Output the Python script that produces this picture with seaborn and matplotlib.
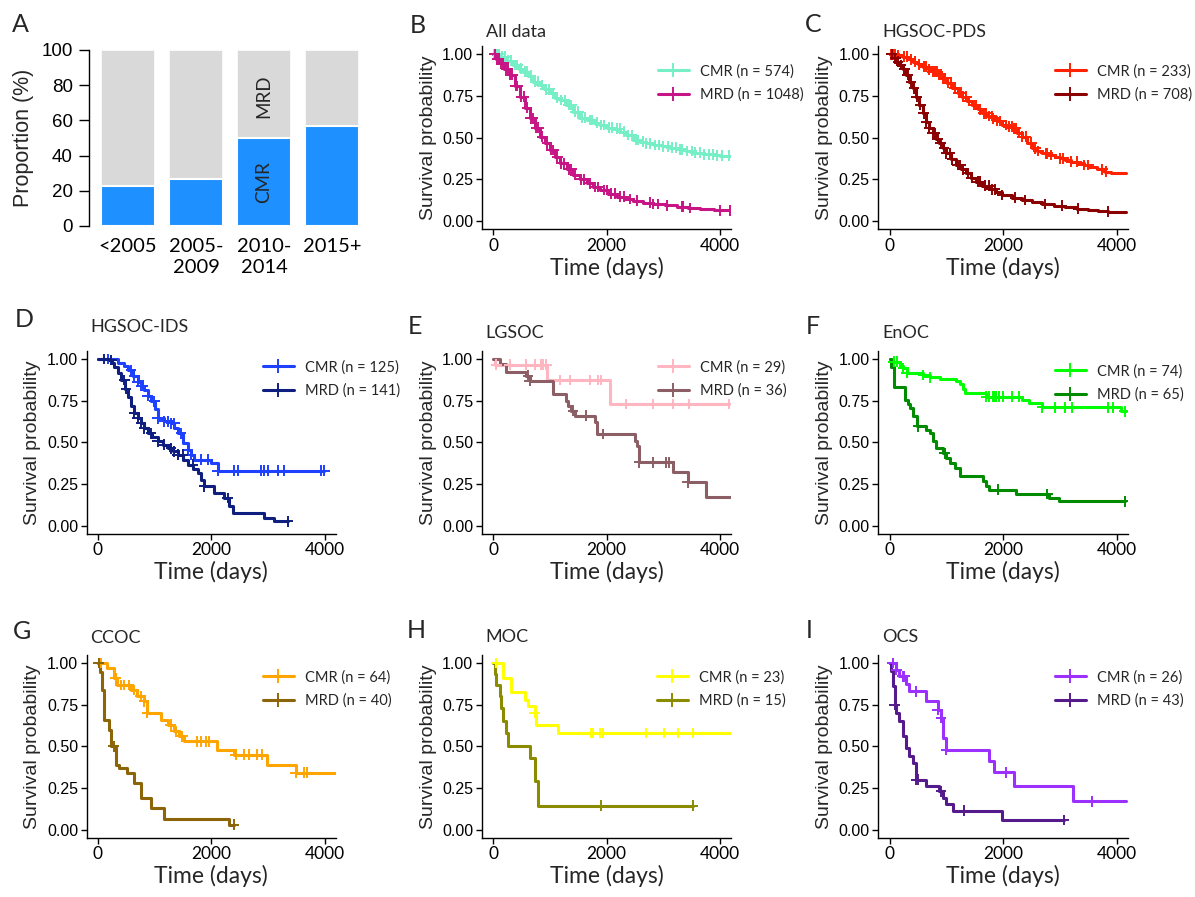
"""Response-group survival figure: CMR share by period and Kaplan-Meier panels."""

import matplotlib

matplotlib.use("Agg")
import matplotlib.pyplot as plt
import numpy as np
import pandas as pd
import seaborn as sns
from matplotlib.lines import Line2D

FIG_W, FIG_H = 1195, 897

# ---- panel A: proportion of CMR / MRD per diagnosis period ----
PERIODS = ["<2005", "2005-\n2009", "2010-\n2014", "2015+"]
CMR_PCT = [23, 26.5, 50, 57]
TOTAL_PCT = [100, 100, 100, 100]

# ---- Kaplan-Meier curves: step times (days), survival after each step, censor times ----
B_CMR_TIME = [0, 120, 250, 350, 450, 530, 620, 710, 820, 900, 1000, 1100, 1180, 1290, 1410, 1520, 1650, 1780,
              1880, 2000, 2120, 2240, 2350, 2470, 2590, 2700, 2830, 2980, 3120, 3240, 3400, 3530, 3700, 3880,
              4000, 4176]
B_CMR_SURV = [1.0, 0.986, 0.962, 0.936, 0.915, 0.896, 0.872, 0.836, 0.816, 0.79, 0.766, 0.74, 0.726, 0.696,
              0.656, 0.62, 0.606, 0.59, 0.576, 0.56, 0.553, 0.536, 0.516, 0.486, 0.476, 0.466, 0.456, 0.448,
              0.44, 0.43, 0.42, 0.41, 0.40, 0.395, 0.392, 0.392]
B_CMR_CENSOR = [20, 45, 80, 110, 160, 210, 270, 320, 390, 430, 500, 560, 600, 660, 740, 790, 860, 930, 990,
                1050, 1130, 1200, 1260, 1330, 1380, 1450, 1500, 1570, 1620, 1700, 1750, 1830, 1900, 1960, 2050,
                2100, 2180, 2230, 2300, 2380, 2450, 2520, 2560, 2640, 2700, 2760, 2850, 2920, 3000, 3080, 3150,
                3220, 3290, 3330, 3420, 3500, 3560, 3650, 3720, 3800, 3870, 3950, 4030, 4150]
B_MRD_TIME = [0, 60, 120, 200, 294, 380, 470, 560, 647, 735, 824, 910, 1000, 1090, 1176, 1300, 1412, 1530,
              1647, 1760, 1882, 2030, 2176, 2320, 2470, 2650, 2823, 3030, 3235, 3440, 3647, 3900, 4176]
B_MRD_SURV = [1.0, 0.97, 0.946, 0.915, 0.876, 0.81, 0.746, 0.68, 0.616, 0.56, 0.506, 0.466, 0.426, 0.385,
              0.346, 0.31, 0.276, 0.25, 0.226, 0.205, 0.186, 0.165, 0.146, 0.133, 0.122, 0.111, 0.102, 0.094,
              0.086, 0.078, 0.07, 0.065, 0.062]
B_MRD_CENSOR = [30, 70, 100, 140, 180, 230, 260, 300, 340, 400, 430, 500, 540, 600, 660, 700, 760, 800, 870,
                950, 1020, 1060, 1130, 1200, 1250, 1330, 1380, 1450, 1550, 1600, 1700, 1800, 1850, 1950, 2000,
                2080, 2150, 2230, 2300, 2412, 2540, 2764, 2823, 2900, 3058, 3323, 3352, 3470, 4000, 4176]

C_CMR_TIME = [0, 100, 234, 320, 409, 500, 584, 670, 759, 850, 934, 1020, 1109, 1200, 1285, 1370, 1460, 1550,
              1635, 1720, 1810, 1900, 1985, 2070, 2161, 2250, 2336, 2420, 2511, 2600, 2686, 2800, 2920, 3000,
              3095, 3200, 3329, 3420, 3504, 3650, 3796, 3900, 4175]
C_CMR_SURV = [1.0, 0.995, 0.986, 0.97, 0.956, 0.94, 0.926, 0.91, 0.896, 0.88, 0.856, 0.83, 0.796, 0.77, 0.746,
              0.72, 0.696, 0.67, 0.646, 0.63, 0.616, 0.6, 0.576, 0.565, 0.556, 0.53, 0.506, 0.47, 0.436, 0.42,
              0.406, 0.396, 0.386, 0.376, 0.366, 0.356, 0.346, 0.336, 0.326, 0.31, 0.296, 0.29, 0.29]
C_CMR_CENSOR = [30, 60, 90, 150, 250, 300, 380, 450, 520, 600, 650, 700, 760, 800, 840, 880, 900, 950, 980,
                1030, 1080, 1150, 1220, 1260, 1300, 1350, 1400, 1480, 1520, 1600, 1660, 1700, 1760, 1800, 1830,
                1900, 1950, 2050, 2100, 2150, 2200, 2230, 2280, 2340, 2400, 2500, 2570, 2620, 2750, 2780, 2850,
                3000, 3060, 3200, 3300, 3420, 3500, 3750, 3820]
C_MRD_TIME = [0, 58, 120, 175, 235, 292, 350, 409, 470, 525, 585, 642, 700, 759, 820, 876, 935, 993, 1080,
              1168, 1255, 1343, 1430, 1518, 1635, 1752, 1870, 1985, 2160, 2336, 2510, 2686, 2890, 3095, 3300,
              3504, 3680, 3854, 4175]
C_MRD_SURV = [1.0, 0.976, 0.956, 0.936, 0.91, 0.876, 0.836, 0.796, 0.746, 0.696, 0.646, 0.596, 0.56, 0.526,
              0.495, 0.466, 0.436, 0.406, 0.37, 0.336, 0.31, 0.286, 0.26, 0.236, 0.212, 0.19, 0.172, 0.156, 0.14,
              0.126, 0.113, 0.102, 0.092, 0.082, 0.074, 0.066, 0.06, 0.056, 0.052]
C_MRD_CENSOR = [40, 100, 150, 200, 260, 320, 380, 430, 480, 540, 600, 650, 700, 760, 800, 850, 900, 960, 1000,
                1060, 1100, 1200, 1250, 1300, 1380, 1450, 1550, 1600, 1680, 1750, 1800, 1860, 1985, 2219, 2394,
                2744, 3036, 3329, 3854]

D_CMR_TIME = [0, 352, 469, 540, 620, 704, 760, 821, 880, 938, 1000, 1056, 1173, 1290, 1350, 1408, 1496, 1584,
              1640, 1701, 1994, 2111, 3988]
D_CMR_SURV = [1.0, 0.976, 0.955, 0.934, 0.9, 0.864, 0.84, 0.814, 0.78, 0.745, 0.7, 0.645, 0.625, 0.615, 0.585,
              0.555, 0.495, 0.455, 0.425, 0.395, 0.375, 0.329, 0.329]
D_CMR_CENSOR = [176, 586, 645, 704, 762, 792, 880, 997, 1056, 1173, 1232, 1290, 1349, 1466, 1584, 1642, 1818,
                1935, 2111, 2404, 2463, 2873, 2932, 2991, 3167, 3284, 3929, 3988]
D_MRD_TIME = [0, 176, 250, 293, 350, 410, 470, 528, 590, 645, 700, 762, 820, 880, 960, 1056, 1140, 1232, 1320,
              1408, 1500, 1584, 1680, 1760, 1820, 1877, 2053, 2229, 2317, 2375, 2932, 3108, 3343]
D_MRD_SURV = [1.0, 0.994, 0.975, 0.954, 0.915, 0.874, 0.82, 0.774, 0.72, 0.675, 0.645, 0.615, 0.585, 0.555,
              0.53, 0.505, 0.485, 0.465, 0.445, 0.425, 0.395, 0.365, 0.34, 0.315, 0.275, 0.236, 0.196, 0.166,
              0.116, 0.076, 0.046, 0.026, 0.026]
D_MRD_CENSOR = [117, 235, 469, 498, 645, 704, 762, 821, 938, 1056, 1173, 1290, 1349, 1408, 1496, 1671, 1877,
                2287, 3343]

E_CMR_TIME = [0, 40, 950, 2053, 4164]
E_CMR_SURV = [1.0, 0.966, 0.874, 0.729, 0.729]
E_CMR_CENSOR = [59, 293, 586, 733, 850, 880, 938, 1173, 1349, 1701, 1847, 1906, 2346, 2815, 3167, 3460, 4164]
E_MRD_TIME = [0, 117, 235, 586, 645, 1056, 1290, 1320, 1380, 1440, 1790, 1830, 2493, 2530, 2580, 3167, 3431,
              3753, 4193]
E_MRD_SURV = [1.0, 0.97, 0.92, 0.9, 0.87, 0.79, 0.745, 0.72, 0.69, 0.66, 0.62, 0.55, 0.51, 0.48, 0.38, 0.32,
              0.26, 0.17, 0.17]
E_MRD_CENSOR = [615, 645, 1408, 1642, 1935, 2580, 2815, 3050, 3108, 3431]

F_CMR_TIME = [0, 60, 180, 245, 303, 594, 710, 885, 1176, 1234, 1290, 1322, 1700, 2340, 2457, 2690, 4087, 4170]
F_CMR_SURV = [1.0, 0.984, 0.96, 0.944, 0.918, 0.904, 0.89, 0.878, 0.87, 0.85, 0.82, 0.794, 0.774, 0.754, 0.735,
              0.71, 0.685, 0.685]
F_CMR_CENSOR = [70, 128, 245, 303, 594, 710, 1700, 1758, 1817, 1846, 1875, 1933, 1991, 2166, 2282, 2690, 2923,
                3097, 3214, 3854, 3941, 4145]
F_MRD_TIME = [0, 30, 70, 274, 330, 361, 420, 477, 650, 710, 770, 827, 943, 1000, 1060, 1150, 1234, 1642, 1700,
              1758, 2224, 2806, 2981, 4145]
F_MRD_SURV = [1.0, 0.95, 0.834, 0.754, 0.73, 0.705, 0.66, 0.595, 0.575, 0.555, 0.51, 0.465, 0.435, 0.405,
              0.375, 0.345, 0.3, 0.265, 0.24, 0.216, 0.19, 0.166, 0.146, 0.146]
F_MRD_CENSOR = [507, 972, 1904, 2777, 4145]

G_CMR_TIME = [0, 165, 282, 330, 576, 690, 812, 870, 1106, 1230, 1341, 1430, 1517, 2106, 2400, 2988, 3488, 4194]
G_CMR_SURV = [1.0, 0.968, 0.908, 0.868, 0.838, 0.8, 0.77, 0.7, 0.66, 0.63, 0.59, 0.56, 0.53, 0.48, 0.45, 0.39,
              0.343, 0.343]
G_CMR_CENSOR = [47, 312, 400, 459, 547, 635, 753, 812, 870, 1282, 1370, 1488, 1753, 1812, 1900, 1959, 2429,
                2576, 2665, 2812, 2900, 3488, 3635, 3694]
G_MRD_TIME = [0, 30, 75, 106, 194, 225, 312, 370, 518, 635, 753, 929, 1165, 2312, 2400]
G_MRD_SURV = [1.0, 0.948, 0.838, 0.66, 0.6, 0.5, 0.39, 0.37, 0.34, 0.28, 0.19, 0.13, 0.064, 0.03, 0.03]
G_MRD_CENSOR = [18, 282, 2400]

H_CMR_TIME = [0, 176, 323, 557, 616, 733, 762, 1144, 4194]
H_CMR_SURV = [1.0, 0.913, 0.826, 0.78, 0.74, 0.70, 0.63, 0.58, 0.58]
H_CMR_CENSOR = [59, 733, 1730, 1760, 1877, 1935, 2698, 3020, 3255, 3530]
H_MRD_TIME = [0, 30, 59, 117, 140, 176, 230, 264, 645, 733, 792, 3519]
H_MRD_SURV = [1.0, 0.933, 0.867, 0.8, 0.73, 0.65, 0.58, 0.5, 0.43, 0.29, 0.144, 0.144]
H_MRD_CENSOR = [1906, 3519]

I_CMR_TIME = [0, 117, 175, 292, 350, 642, 847, 905, 934, 993, 1752, 1839, 2190, 3240, 4175]
I_CMR_SURV = [1.0, 0.96, 0.92, 0.875, 0.83, 0.77, 0.72, 0.67, 0.55, 0.48, 0.41, 0.345, 0.26, 0.17, 0.17]
I_CMR_CENSOR = [58, 117, 234, 263, 467, 847, 905, 993, 2044, 3562]
I_MRD_TIME = [0, 30, 58, 88, 117, 175, 234, 292, 350, 409, 467, 642, 876, 935, 993, 1110, 1985, 3066]
I_MRD_SURV = [1.0, 0.95, 0.86, 0.75, 0.7, 0.65, 0.56, 0.49, 0.44, 0.4, 0.3, 0.26, 0.23, 0.19, 0.155, 0.115,
              0.058, 0.058]
I_MRD_CENSOR = [88, 467, 496, 905, 1314, 3066]

KM_PANELS = [
    ("B", "All data", (574, 1048), ("#76EEC6", "#C71585"),
     (B_CMR_TIME, B_CMR_SURV, B_CMR_CENSOR), (B_MRD_TIME, B_MRD_SURV, B_MRD_CENSOR)),
    ("C", "HGSOC-PDS", (233, 708), ("#FF2200", "#8B0000"),
     (C_CMR_TIME, C_CMR_SURV, C_CMR_CENSOR), (C_MRD_TIME, C_MRD_SURV, C_MRD_CENSOR)),
    ("D", "HGSOC-IDS", (125, 141), ("#1E40FF", "#0F1F80"),
     (D_CMR_TIME, D_CMR_SURV, D_CMR_CENSOR), (D_MRD_TIME, D_MRD_SURV, D_MRD_CENSOR)),
    ("E", "LGSOC", (29, 36), ("#FFB6C1", "#8B5F65"),
     (E_CMR_TIME, E_CMR_SURV, E_CMR_CENSOR), (E_MRD_TIME, E_MRD_SURV, E_MRD_CENSOR)),
    ("F", "EnOC", (74, 65), ("#00FF00", "#008B00"),
     (F_CMR_TIME, F_CMR_SURV, F_CMR_CENSOR), (F_MRD_TIME, F_MRD_SURV, F_MRD_CENSOR)),
    ("G", "CCOC", (64, 40), ("#FFA500", "#8B6508"),
     (G_CMR_TIME, G_CMR_SURV, G_CMR_CENSOR), (G_MRD_TIME, G_MRD_SURV, G_MRD_CENSOR)),
    ("H", "MOC", (23, 15), ("#FFFF00", "#8B8B00"),
     (H_CMR_TIME, H_CMR_SURV, H_CMR_CENSOR), (H_MRD_TIME, H_MRD_SURV, H_MRD_CENSOR)),
    ("I", "OCS", (26, 43), ("#9B30FF", "#551A8B"),
     (I_CMR_TIME, I_CMR_SURV, I_CMR_CENSOR), (I_MRD_TIME, I_MRD_SURV, I_MRD_CENSOR)),
]

# layout in pixels (top-left origin)
COL_LEFT = [86.5, 481.7, 878.2]
ROW_TOP = [46, 350.6, 654.7]
KM_W, KM_H = 249.7, 183.4
GRID_POS = {"B": (0, 1), "C": (0, 2), "D": (1, 0), "E": (1, 1), "F": (1, 2),
            "G": (2, 0), "H": (2, 1), "I": (2, 2)}
TITLE_Y = {"B": 31.7, "C": 31.7, "D": 326.7, "E": 333.3, "F": 333.3, "G": 637.7, "H": 636.7, "I": 636.7}
LETTER_POS = {"A": (11.7, 25), "B": (410, 25.5), "C": (805, 25), "D": (15, 319.5), "E": (408, 326.7),
              "F": (806, 326.7), "G": (13.3, 631.7), "H": (406.7, 630.7), "I": (806, 630)}
LEGEND_POS = {"B": (658, 72), "C": (1055, 72), "D": (263, 368), "E": (658, 368), "F": (1055, 372),
              "G": (263, 678), "H": (657, 678), "I": (1055, 678)}

GROUPS = ["CMR", "MRD"]
Y_TICKS = [0.0, 0.25, 0.5, 0.75, 1.0]
LABEL_FONT = "Lato"
AXIS_FONT = "Liberation Sans"


def rect(left, top, right, bottom):
    return [left / FIG_W, 1 - bottom / FIG_H, (right - left) / FIG_W, (bottom - top) / FIG_H]


def fig_xy(x, y):
    return x / FIG_W, 1 - y / FIG_H


def style_spines(ax, sides):
    for side, spine in ax.spines.items():
        spine.set_visible(side in sides)
        spine.set_color("black")
        spine.set_linewidth(1.0)


def plot_proportions(fig):
    ax = fig.add_axes(rect(89.3, 50, 372.8, 226))
    df = pd.DataFrame({"period": PERIODS, "cmr": CMR_PCT, "total": TOTAL_PCT})
    sns.barplot(data=df, x="period", y="total", color="#D9D9D9", saturation=1, width=0.8,
                edgecolor="white", linewidth=1.2, ax=ax)
    sns.barplot(data=df, x="period", y="cmr", color="#1E90FF", saturation=1, width=0.8,
                edgecolor="white", linewidth=1.5, ax=ax)
    ax.set_xlim(-0.57, 3.6)
    ax.set_ylim(0, 100)
    ax.set_yticks([0, 20, 40, 60, 80, 100])
    ax.set_yticklabels(["0", "20", "40", "60", "80", "100"], fontfamily=AXIS_FONT, fontsize=13.5)
    ax.set_xticks(range(len(PERIODS)))
    ax.set_xticklabels(PERIODS, fontfamily=LABEL_FONT, fontsize=14.5, linespacing=1.25)
    ax.tick_params(axis="y", length=7, width=1, pad=5, colors="black")
    ax.tick_params(axis="x", length=0, pad=9, colors="black")
    ax.set_xlabel("")
    ax.set_ylabel("Proportion (%)", fontfamily=AXIS_FONT, fontsize=15.5, labelpad=5)
    style_spines(ax, {"left"})
    ax.text(2, 73.5, "MRD", rotation=90, ha="center", va="center", fontfamily=LABEL_FONT, fontsize=13.5)
    ax.text(2, 24.7, "CMR", rotation=90, ha="center", va="center", fontfamily=LABEL_FONT, fontsize=13.5)


def curve_frames(cmr, mrd):
    steps, marks = [], []
    for group, (times, surv, censor) in zip(GROUPS, (cmr, mrd)):
        steps.append(pd.DataFrame({"time": times, "surv": surv, "group": group}))
        idx = np.searchsorted(times, censor, side="right") - 1
        marks.append(pd.DataFrame({"time": censor, "surv": np.asarray(surv)[idx], "group": group}))
    return pd.concat(steps, ignore_index=True), pd.concat(marks, ignore_index=True)


def plot_km(fig, letter, title, counts, colors, cmr, mrd):
    row, col = GRID_POS[letter]
    left, top = COL_LEFT[col], ROW_TOP[row]
    ax = fig.add_axes(rect(left, top, left + KM_W, top + KM_H))
    steps, marks = curve_frames(cmr, mrd)
    palette = dict(zip(GROUPS, colors))
    sns.lineplot(data=steps, x="time", y="surv", hue="group", hue_order=GROUPS, palette=palette,
                 estimator=None, drawstyle="steps-post", linewidth=2.2, legend=False, ax=ax)
    sns.scatterplot(data=marks, x="time", y="surv", hue="group", hue_order=GROUPS, palette=palette,
                    marker="+", s=60, linewidth=1.4, legend=False, ax=ax, zorder=3)

    ax.set_xlim(-200, 4200)
    ax.set_ylim(-0.05, 1.05)
    ax.set_xticks([0, 2000, 4000])
    ax.set_xticklabels(["0", "2000", "4000"], fontfamily=LABEL_FONT, fontsize=12.5)
    ax.set_yticks(Y_TICKS)
    ax.set_yticklabels([f"{v:.2f}" for v in Y_TICKS], fontfamily=AXIS_FONT, fontsize=11.5)
    ax.tick_params(length=4, width=1, pad=2, colors="black")
    ax.set_xlabel("Time (days)", fontfamily=LABEL_FONT, fontsize=16.5, labelpad=2)
    ax.set_ylabel("Survival probability", fontfamily=AXIS_FONT, fontsize=14, labelpad=4)
    style_spines(ax, {"left", "bottom"})

    handles = [Line2D([], [], color=c, lw=2.2, marker="+", markersize=10, markeredgewidth=1.4) for c in colors]
    labels = [f"{g} (n = {n})" for g, n in zip(GROUPS, counts)]
    lx, ly = LEGEND_POS[letter]
    ax.legend(handles, labels, loc="upper left", bbox_to_anchor=fig_xy(lx, ly - 8),
              bbox_transform=fig.transFigure, frameon=False, borderpad=0, borderaxespad=0,
              handlelength=2.1, handletextpad=0.8, labelspacing=0.62,
              prop={"family": LABEL_FONT, "size": 10.5})

    tx, ty = fig_xy(left + 4, TITLE_Y[letter])
    fig.text(tx, ty, title, ha="left", va="center", fontfamily=LABEL_FONT, fontsize=13)


def main():
    sns.set_theme(style="ticks")
    plt.rcParams["font.family"] = [LABEL_FONT, "DejaVu Sans"]
    fig = plt.figure(figsize=(FIG_W / 100, FIG_H / 100), dpi=100)
    fig.patch.set_facecolor("white")

    plot_proportions(fig)
    for letter, title, counts, colors, cmr, mrd in KM_PANELS:
        plot_km(fig, letter, title, counts, colors, cmr, mrd)

    for letter, (x, y) in LETTER_POS.items():
        fx, fy = fig_xy(x, y)
        fig.text(fx, fy, letter, ha="left", va="center", fontfamily=LABEL_FONT, fontsize=18)

    fig.savefig("out.png", dpi=100, facecolor="white")
    plt.close(fig)


if __name__ == "__main__":
    main()
